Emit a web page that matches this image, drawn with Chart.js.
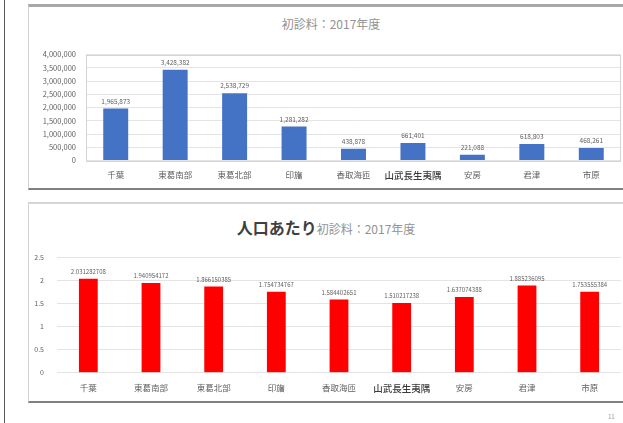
<!DOCTYPE html>
<html>
<head>
<meta charset="utf-8">
<script src="https://cdn.jsdelivr.net/npm/chart.js@4"></script>
<style>
  html, body { margin: 0; padding: 0; background: #fff; }
  body { width: 623px; height: 423px; position: relative; overflow: hidden;
         font-family: "Noto Sans CJK JP", "Noto Sans", sans-serif; }
  .abs { position: absolute; }
  .pageline { left: 4px; top: 0; width: 1px; height: 423px; background: #5a5a5a; }
  .panel { left: 28px; width: 595px; box-sizing: border-box; border-left: 1px solid #d2d2d2; }
  #panelTop { top: 4px; height: 186px; border-top: 3px solid #a8a8a8; border-bottom: 2px solid #808080; }
  #panelBottom { top: 202px; height: 201px; border-top: 2px solid #d6d6d6; border-bottom: 2px solid #808080; }
  .title { left: 181px; width: 300px; text-align: center; color: #929292; white-space: nowrap; }
  #titleTop { top: 16px; font-size: 12px; line-height: 16px; }
  #titleBottom { top: 216px; line-height: 22px; left: 176px; }
  #titleBottom .big { font-size: 16px; font-weight: bold; color: #404040; }
  #titleBottom .small { font-size: 12px; color: #929292; }
  .box { left: 30px; width: 593px; }
  #boxTop { top: 40px; height: 146px; }
  #boxBottom { top: 240px; height: 162px; }
  #pageNo { left: 608px; top: 412px; font-size: 6px; color: #9a9a9a; }
</style>
</head>
<body>
<div class="abs pageline"></div>
<div class="abs panel" id="panelTop"></div>
<div class="abs panel" id="panelBottom"></div>
<div class="abs title" id="titleTop">初診料：2017年度</div>
<div class="abs title" id="titleBottom"><span class="big">人口あたり</span><span class="small">初診料：2017年度</span></div>
<div class="abs box" id="boxTop"><canvas id="chartTop"></canvas></div>
<div class="abs box" id="boxBottom"><canvas id="chartBottom"></canvas></div>
<div class="abs" id="pageNo">11</div>
<script>
// Secondary medical care areas of Chiba
const regions = ["千葉", "東葛南部", "東葛北部", "印旛", "香取海匝", "山武長生夷隅", "安房", "君津", "市原"];
// First-visit fee totals, FY2017
const visitFees = [1965873, 3428382, 2538729, 1281282, 438878, 661401, 221088, 618803, 468261];
// First-visit fee per head of population, FY2017
const perCapita = [2.031282708, 1.940954172, 1.866150385, 1.754734767, 1.584402651, 1.510217238, 1.637074388, 1.885236095, 1.753555384];
// Value axis ticks
const feeTicks = [0, 500000, 1000000, 1500000, 2000000, 2500000, 3000000, 3500000, 4000000];
const perCapitaTicks = [0, 0.5, 1, 1.5, 2, 2.5];

const FONT = '"Noto Sans CJK JP", "Noto Sans", sans-serif';
const TEXT = '#5f5f5f';

// Value labels above each bar
const valueLabels = {
  id: 'valueLabels',
  afterDatasetsDraw(chart, args, opts) {
    const ctx = chart.ctx;
    const meta = chart.getDatasetMeta(0);
    const data = chart.data.datasets[0].data;
    ctx.save();
    ctx.font = opts.size + 'px ' + FONT;
    ctx.fillStyle = TEXT;
    ctx.textAlign = 'center';
    ctx.textBaseline = 'bottom';
    meta.data.forEach((el, i) => {
      ctx.fillText(opts.format(data[i]), el.x, el.y - opts.gap);
    });
    ctx.restore();
  }
};

// Thin frame around the plot area
const plotFrame = {
  id: 'plotFrame',
  beforeDatasetsDraw(chart, args, opts) {
    if (!opts.show) return;
    const a = chart.chartArea;
    const ctx = chart.ctx;
    ctx.save();
    ctx.strokeStyle = '#d4d4d4';
    ctx.lineWidth = 1;
    ctx.strokeRect(Math.round(a.left) + 0.5, Math.round(a.top) + 0.5,
                   Math.round(a.right - a.left) - 1, Math.round(a.bottom - a.top));
    ctx.restore();
  }
};

function tickFont(size) {
  return (c) => c.index === 5
    ? { family: FONT, size: size + 1, weight: '500' }
    : { family: FONT, size: size };
}
function tickColor(c) { return c.index === 5 ? '#3a3a3a' : TEXT; }

function makeChart(id, values, ticks, o) {
  return new Chart(document.getElementById(id), {
    type: 'bar',
    data: {
      labels: regions,
      datasets: [{
        data: values,
        backgroundColor: o.color,
        borderWidth: 0,
        barPercentage: o.barPct,
        categoryPercentage: 0.5
      }]
    },
    options: {
      responsive: true,
      maintainAspectRatio: false,
      animation: false,
      events: [],
      layout: { autoPadding: false, padding: { top: o.padTop, right: 2, left: 0, bottom: 0 } },
      plugins: {
        legend: { display: false },
        tooltip: { enabled: false },
        title: { display: false },
        valueLabels: { size: o.labelSize, gap: 4, format: o.format },
        plotFrame: { show: o.frame }
      },
      scales: {
        x: {
          grid: { display: false },
          border: { display: false },
          ticks: { font: tickFont(8.5), color: tickColor, padding: o.xPad, maxRotation: 0, autoSkip: false },
          afterFit(s) { s.height = o.xHeight; }
        },
        y: {
          min: ticks[0],
          max: ticks[ticks.length - 1],
          afterBuildTicks(s) { s.ticks = ticks.map(v => ({ value: v })); },
          grid: { color: '#e4e4e4', drawTicks: false, lineWidth: 1 },
          border: { display: false },
          ticks: {
            font: { family: FONT, size: o.ySize },
            color: TEXT,
            padding: o.yPad,
            callback: o.yFormat
          },
          afterFit(s) { s.width = o.yWidth; }
        }
      }
    },
    plugins: [valueLabels, plotFrame]
  });
}

makeChart('chartTop', visitFees, feeTicks, {
  color: '#4472c4', barPct: 0.84, padTop: 7, xHeight: 25.5, yWidth: 56,
  xPad: 1, yPad: 10, ySize: 7.5, labelSize: 6.5, frame: true,
  format: v => v.toLocaleString('en-US'),
  yFormat: v => Number(v).toLocaleString('en-US')
});

makeChart('chartBottom', perCapita, perCapitaTicks, {
  color: '#ff0000', barPct: 0.6, padTop: 11.7, xHeight: 29.3, yWidth: 27,
  xPad: 2, yPad: 13, ySize: 7, labelSize: 6, frame: false,
  format: v => String(v),
  yFormat: v => String(v)
});
</script>
</body>
</html>
